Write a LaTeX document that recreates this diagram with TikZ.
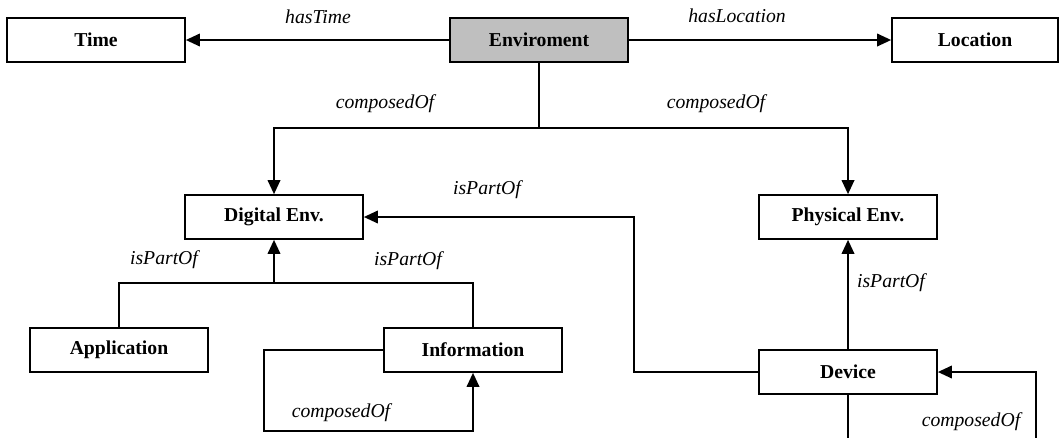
\documentclass[tikz,border=0pt]{standalone}
\usepackage{fontspec}
\setmainfont{Liberation Serif}
\usetikzlibrary{positioning, arrows.meta}
\tikzset{concept/.style={draw,line width=1.2pt,minimum width=4.45cm,minimum height=1.1cm,
                         inner sep=0pt,font=\fontsize{14}{16}\selectfont\bfseries},
         root/.style={concept,fill=gray!50},
         rel/.style={font=\fontsize{14}{16}\selectfont\itshape,inner sep=0pt},
         arr/.style={line width=1.2pt,-{Triangle[length=10pt,width=9pt]}},
         link/.style={line width=1.2pt},
        }

\begin{document}
\begin{tikzpicture}[x=0.025cm,y=-0.025cm]
        \useasboundingbox (0,0) rectangle (1063,437);
        \node[root](env)at(539,40){Enviroment};
        \node[concept](time)at(96,40){Time};
        \node[concept, minimum width=4.15cm](loc)at(975,40){Location};
        \node[concept](digi)at(274,217){Digital Env.};
        \node[concept](phys)at(848,217){Physical Env.};
        \node[concept](app)at(119,350){Application};
        \node[concept](info)at(473,350){Information};
        \node[concept](dev)at(848,372){Device};

        \draw[arr](env)--(time);
        \draw[arr](env)--(loc);
        \node[rel](lTime)at(318,17){hasTime};
        \node[rel](lLoc)at(737,16){hasLocation};

        \coordinate(cj)at(539,128);
        \draw[link](env)--(cj);
        \draw[arr](cj)-|(digi);
        \draw[arr](cj)-|(phys);
        \node[rel](lCompL)at(385,104){composedOf};
        \node[rel](lCompR)at(716,104){composedOf};

        \coordinate(bend)at(634,217);
        \draw[arr](dev)-|(bend)--(digi);
        \node[rel](lDevDigi)at(487,190){isPartOf};

        \coordinate(aj)at(274,283);
        \draw[link](app.north)|-(aj)-|(info.north);
        \draw[arr](aj)--(digi);
        \node[rel](lApp)at(164,260){isPartOf};
        \node[rel](lInfo)at(408,261){isPartOf};

        \coordinate(il)at(264,431);
        \draw[arr](info.west)-|(il)-|(info.south);
        \node[rel](lInfoSelf)at(341,413){composedOf};

        \draw[arr](dev)--(phys);
        \node[rel](lDevPhys)at(891,283){isPartOf};

        \coordinate(dl)at(1036,445);
        \draw[arr](dev.south)|-(dl)|-(dev.east);
        \node[rel](lDevSelf)at(971,422){composedOf};
    \end{tikzpicture}
\end{document}
